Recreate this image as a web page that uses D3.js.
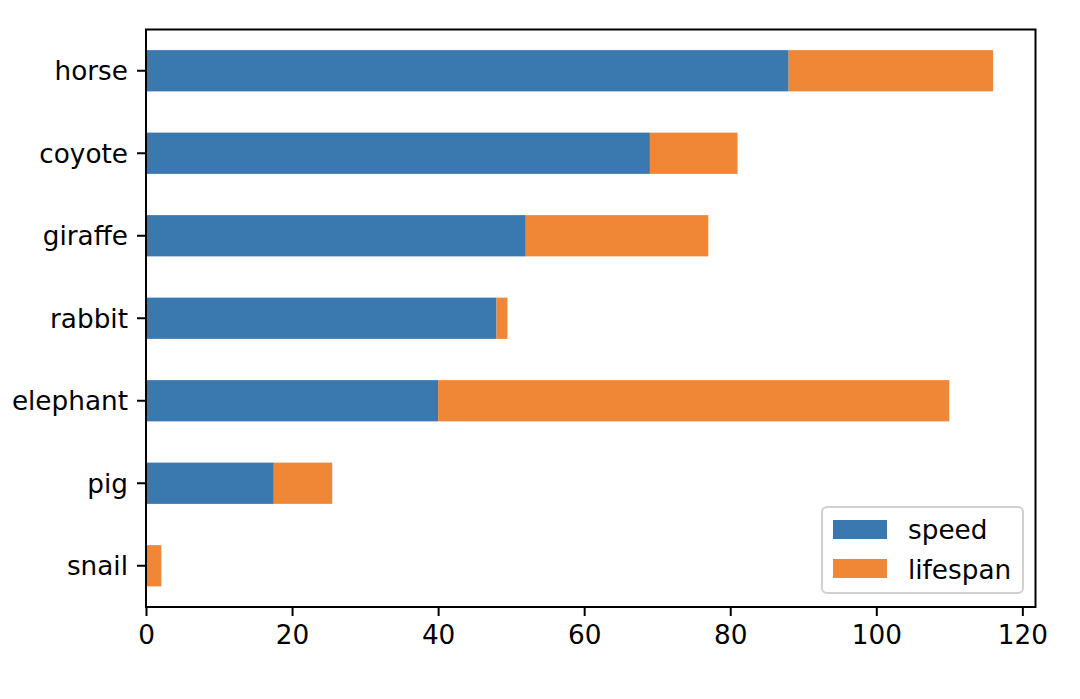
<!DOCTYPE html>
<html><head><meta charset="utf-8">
<script src="https://cdn.jsdelivr.net/npm/d3@7"></script>
<style>body{margin:0;background:#fff;} text{font-family:"DejaVu Sans",sans-serif;}</style>
</head><body>
<svg id="chart" width="1080" height="699"></svg>
<script>
const categories = ["snail", "pig", "elephant", "rabbit", "giraffe", "coyote", "horse"];
const speed = [0.1, 17.5, 40, 48, 52, 69, 88];
const lifespan = [2, 8, 70, 1.5, 25, 12, 28];
const seriesNames = ["speed", "lifespan"];
const colors = ["#3a78b0", "#ef8737"];
const xTicks = [0, 20, 40, 60, 80, 100, 120];

const svg = d3.select("#chart");
const L = 146, R = 1035.5, T = 29.5, B = 607;
const fs = 26.3;

const x = d3.scaleLinear().domain([0, 121.8]).range([L, R]);
const y = d3.scaleBand().domain(categories.slice().reverse()).range([T, B]).paddingInner(0.5).paddingOuter(0.25);

const rows = categories.map((c, i) => ({cat: c, speed: speed[i], lifespan: lifespan[i]}));
const stack = d3.stack().keys(seriesNames)(rows);

svg.append("g").selectAll("g").data(stack).join("g")
  .attr("fill", (d, i) => colors[i])
  .selectAll("rect").data(d => d).join("rect")
  .attr("x", d => x(d[0]))
  .attr("width", d => x(d[1]) - x(d[0]))
  .attr("y", d => y(d.data.cat))
  .attr("height", y.bandwidth());

// x axis
const xa = svg.append("g").attr("transform", `translate(0,${B})`)
  .call(d3.axisBottom(x).tickValues(xTicks).tickSize(9).tickPadding(9).tickFormat(d3.format("d")));
xa.select(".domain").remove();
xa.selectAll("line").attr("stroke", "#000").attr("stroke-width", 2);
xa.selectAll("text").attr("font-size", fs).attr("fill", "#000").attr("font-family", "DejaVu Sans");

// y axis
const ya = svg.append("g").attr("transform", `translate(${L},0)`)
  .call(d3.axisLeft(y).tickSize(9).tickPadding(9));
ya.select(".domain").remove();
ya.selectAll("line").attr("stroke", "#000").attr("stroke-width", 2);
ya.selectAll("text").attr("font-size", fs).attr("fill", "#000").attr("font-family", "DejaVu Sans").attr("dy", "0.36em");

// frame
svg.append("rect").attr("x", L).attr("y", T).attr("width", R - L).attr("height", B - T)
  .attr("fill", "none").attr("stroke", "#000").attr("stroke-width", 2);

// legend
const lg = svg.append("g");
lg.append("rect").attr("x", 822).attr("y", 507).attr("width", 201).attr("height", 86)
  .attr("rx", 5).attr("fill", "#fff").attr("fill-opacity", 0.8).attr("stroke", "#d0d0d0").attr("stroke-width", 2);
seriesNames.forEach((n, i) => {
  lg.append("rect").attr("x", 833).attr("y", 520 + i * 39).attr("width", 54).attr("height", 19).attr("fill", colors[i]);
  lg.append("text").attr("x", 908).attr("y", 539 + i * 39.5).attr("font-size", fs).attr("fill", "#000").text(n);
});
</script>
</body></html>
